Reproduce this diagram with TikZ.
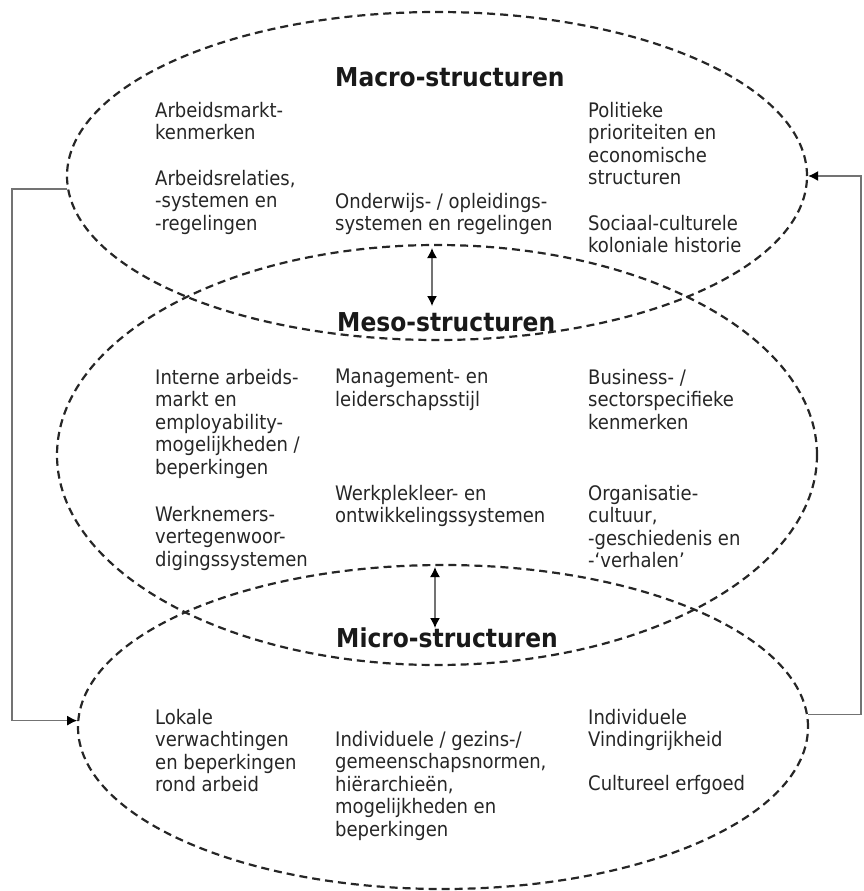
\documentclass[tikz,border=0pt]{standalone}
\usepackage{fontspec}
\setmainfont{DejaVu Sans Condensed}
\usetikzlibrary{shapes.geometric,arrows.meta}
\begin{document}
\begin{tikzpicture}[x=1pt,y=-1pt,
  zone/.style={draw=black!85, line width=2.2pt, dash pattern=on 8pt off 5pt, ellipse, inner sep=0pt},
  txt/.style={anchor=north west, inner sep=0pt, align=left, font=\fontsize{20}{22.4}\selectfont, text=black!85},
  ttl/.style={anchor=west, inner sep=0pt, font=\fontsize{26}{30}\selectfont\bfseries, text=black!90},
  link/.style={draw=black!55, line width=1.4pt},
  tip/.style={-{Latex[length=10pt,width=10pt,color=black]}},
  dtip/.style={{Latex[length=10pt,width=10pt,color=black]}-{Latex[length=10pt,width=10pt,color=black]}}
]
\useasboundingbox (0,0) rectangle (863,891);
% ellipses
\node[zone, minimum width=740pt, minimum height=328pt] (macro) at (437,176) {};
\node[zone, minimum width=760pt, minimum height=420pt] (meso) at (437,455) {};
\node[zone, minimum width=730pt, minimum height=324pt] (micro) at (443,727) {};
% titles
\node[ttl] (tmacro) at (335,77.5) {Macro-structuren};
\node[ttl] (tmeso) at (337,322.5) {Meso-structuren};
\node[ttl] (tmicro) at (336,637.5) {Micro-structuren};
% macro texts
\node[txt] (a1) at (155,102) {Arbeidsmarkt-\\kenmerken};
\node[txt] (a2) at (155,170) {Arbeidsrelaties,\\-systemen en\\-regelingen};
\node[txt] (a3) at (335,193) {Onderwijs- / opleidings-\\systemen en regelingen};
\node[txt] (a4) at (588,102) {Politieke\\prioriteiten en\\economische\\structuren};
\node[txt] (a5) at (588,215) {Sociaal-culturele\\koloniale historie};
% meso texts
\node[txt] (b1) at (155,369) {Interne arbeids-\\markt en\\employability-\\mogelijkheden /\\beperkingen};
\node[txt] (b2) at (335,369) {Management- en\\leiderschapsstijl};
\node[txt] (b3) at (588,369) {Business- /\\sectorspecifieke\\kenmerken};
\node[txt] (b4) at (155,506) {Werknemers-\\vertegenwoor-\\digingssystemen};
\node[txt] (b5) at (335,485) {Werkplekleer- en\\ontwikkelingssystemen};
\node[txt] (b6) at (588,485) {Organisatie-\\cultuur,\\-geschiedenis en\\-‘verhalen’};
% micro texts
\node[txt] (c1) at (155,709) {Lokale\\verwachtingen\\en beperkingen\\rond arbeid};
\node[txt] (c2) at (335,731) {Individuele / gezins-/\\gemeenschapsnormen,\\hiërarchieën,\\mogelijkheden en\\beperkingen};
\node[txt] (c3) at (588,709) {Individuele\\Vindingrijkheid};
\node[txt] (c4) at (588,775) {Cultureel erfgoed};
% double arrows
\coordinate (u1) at (432,248);
\coordinate (d1) at (432,306);
\coordinate (u2) at (435,567);
\coordinate (d2) at (435,628);
\draw[link, dtip] (u1) -- (d1);
\draw[link, dtip] (u2) -- (d2);
% side connectors
\coordinate (lx) at (12,0);
\coordinate (rx) at (861,0);
\draw[link, tip] (macro.182) -- (lx |- macro.182) -- (lx |- micro.179) -- (micro.179);
\draw[link, tip] (micro.2) -- (rx |- micro.2) -- (rx |- macro.east) -- (macro.east);
\end{tikzpicture}
\end{document}
